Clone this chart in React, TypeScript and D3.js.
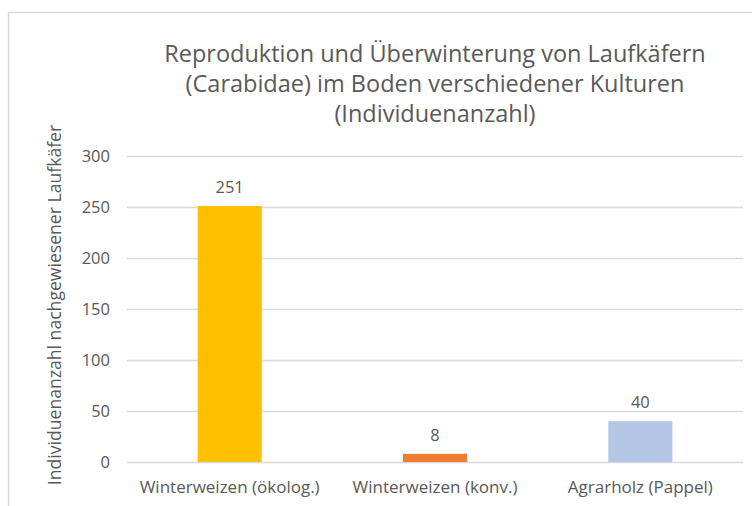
import React, { useEffect, useRef } from 'react'
import * as d3 from 'd3'

const categories = ['Winterweizen (ökolog.)', 'Winterweizen (konv.)', 'Agrarholz (Pappel)']
const values = [251, 8, 40]
const barColors = ['#FFC000', '#ED7D31', '#B4C7E7']
const yTicks = [0, 50, 100, 150, 200, 250, 300]
const titleLines = [
  'Reproduktion und Überwinterung von Laufkäfern',
  '(Carabidae) im Boden verschiedener Kulturen',
  '(Individuenanzahl)',
]
const yTitle = 'Individuenanzahl nachgewiesener Laufkäfer'

export default function App() {
  const ref = useRef<SVGSVGElement>(null)

  useEffect(() => {
    const width = 752, height = 506
    const plot = { left: 127, right: 743, top: 156, bottom: 462 }
    const font = "'Open Sans', sans-serif"
    const textColor = '#595959'

    const svg = d3.select(ref.current)
    svg.selectAll('*').remove()

    svg.append('rect').attr('width', width).attr('height', height).attr('fill', '#fff')

    // chart frame (only top and left edges are visible in the crop)
    svg.append('path')
      .attr('d', `M8.5,${height} L8.5,12.5 L${width},12.5`)
      .attr('fill', 'none')
      .attr('stroke', '#d9d9d9')
      .attr('stroke-width', 1.5)

    const x = d3.scaleBand<string>()
      .domain(categories)
      .range([plot.left, plot.right])
      .paddingInner(0.688)
      .paddingOuter(0.344)
    const y = d3.scaleLinear().domain([0, 300]).range([plot.bottom, plot.top])

    // gridlines
    svg.append('g').selectAll('line')
      .data(yTicks)
      .enter()
      .append('line')
      .attr('x1', plot.left)
      .attr('x2', plot.right)
      .attr('y1', d => Math.round(y(d)) + 0.5)
      .attr('y2', d => Math.round(y(d)) + 0.5)
      .attr('stroke', '#d9d9d9')
      .attr('stroke-width', 1.3)

    // y tick labels
    svg.append('g').selectAll('text')
      .data(yTicks)
      .enter()
      .append('text')
      .attr('x', 110)
      .attr('y', d => y(d))
      .attr('dy', '0.35em')
      .attr('text-anchor', 'end')
      .attr('font-family', font)
      .attr('font-size', 16.5)
      .attr('fill', textColor)
      .text(d => d)

    // bars
    svg.append('g').selectAll('rect')
      .data(values)
      .enter()
      .append('rect')
      .attr('x', (d, i) => x(categories[i]) as number)
      .attr('width', x.bandwidth())
      .attr('y', d => y(d))
      .attr('height', d => plot.bottom - y(d))
      .attr('fill', (d, i) => barColors[i])

    // value labels
    svg.append('g').selectAll('text')
      .data(values)
      .enter()
      .append('text')
      .attr('x', (d, i) => (x(categories[i]) as number) + x.bandwidth() / 2)
      .attr('y', d => y(d) - 13)
      .attr('text-anchor', 'middle')
      .attr('font-family', font)
      .attr('font-size', 16.5)
      .attr('fill', textColor)
      .text(d => d)

    // category labels
    svg.append('g').selectAll('text')
      .data(categories)
      .enter()
      .append('text')
      .attr('x', d => (x(d) as number) + x.bandwidth() / 2)
      .attr('y', 493)
      .attr('text-anchor', 'middle')
      .attr('font-family', font)
      .attr('font-size', 17)
      .attr('fill', textColor)
      .text(d => d)

    // title
    svg.append('g').selectAll('text')
      .data(titleLines)
      .enter()
      .append('text')
      .attr('x', (plot.left + plot.right) / 2)
      .attr('y', (d, i) => 62 + i * 30)
      .attr('text-anchor', 'middle')
      .attr('font-family', font)
      .attr('font-size', 23.5)
      .attr('fill', textColor)
      .text(d => d)

    // y axis title
    svg.append('text')
      .attr('transform', 'translate(55,305) rotate(-90)')
      .attr('text-anchor', 'middle')
      .attr('dy', '0.35em')
      .attr('font-family', font)
      .attr('font-size', 17.6)
      .attr('fill', textColor)
      .text(yTitle)
  }, [])

  return (
    <svg
      ref={ref}
      width={752}
      height={506}
      style={{ position: 'absolute', left: 0, top: 0, display: 'block' }}
    />
  )
}
